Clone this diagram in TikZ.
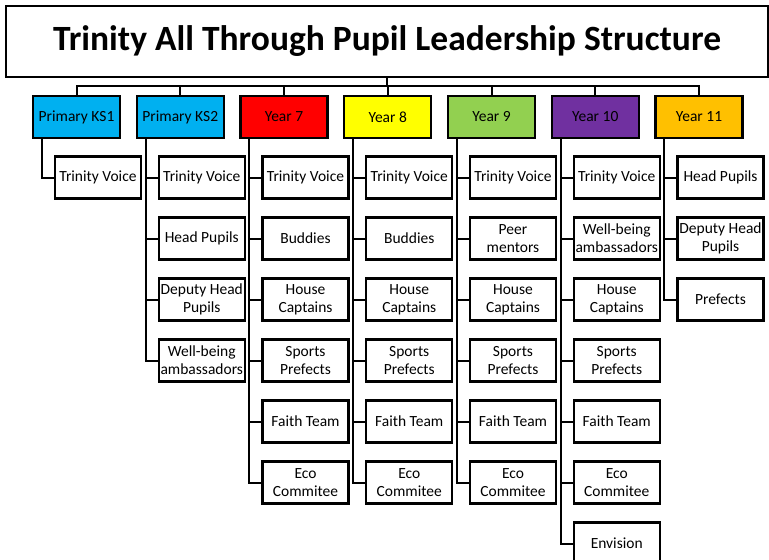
\documentclass[tikz,border=0pt]{standalone}
\usepackage{fontspec}
\setmainfont{Carlito}
\definecolor{ksblue}{HTML}{00B0F0}
\definecolor{ysev}{HTML}{FF0000}
\definecolor{yeig}{HTML}{FFFF00}
\definecolor{ynin}{HTML}{92D050}
\definecolor{yten}{HTML}{7030A0}
\definecolor{yele}{HTML}{FFC000}
\begin{document}
\begin{tikzpicture}
    [x = 1pt, y = -1pt, line width = 2pt,
     every node/.style = {draw, line width = 2.3pt, inner sep = 0pt, align = center,
       font = \fontsize{15.5}{18}\selectfont},
     head/.style = {minimum width = 87pt, minimum height = 42pt},
     kid/.style = {fill = white, minimum width = 86pt, minimum height = 42pt}]
    \useasboundingbox (0,0) rectangle (769,560);
    \node[minimum width = 762pt, minimum height = 71pt,
      font = \fontsize{35.5}{40}\selectfont\bfseries] (title) at (387,41.5)
      {Trinity All Through Pupil Leadership Structure};
    \coordinate (bus) at (387,86);
    \draw (title.south) -- (bus);
    \foreach \i/\name/\col in {0/Primary KS1/ksblue, 1/Primary KS2/ksblue, 2/Year 7/ysev,
        3/Year 8/yeig, 4/Year 9/ynin, 5/Year 10/yten, 6/Year 11/yele}
    {
      \node[head, fill = \col] (h\i) at ({76.5+103.75*\i},117) {\name};
      \draw (h\i.north) |- (bus);
    }
    \foreach \i/\roles in {
        0/{Trinity Voice},
        1/{Trinity Voice, Head Pupils, Deputy Head\\Pupils, Well-being\\ambassadors},
        2/{Trinity Voice, Buddies, House\\Captains, Sports\\Prefects, Faith Team, Eco\\Commitee},
        3/{Trinity Voice, Buddies, House\\Captains, Sports\\Prefects, Faith Team, Eco\\Commitee},
        4/{Trinity Voice, Peer\\mentors, House\\Captains, Sports\\Prefects, Faith Team, Eco\\Commitee},
        5/{Trinity Voice, Well-being\\ambassadors, House\\Captains, Sports\\Prefects, Faith Team, Eco\\Commitee, Envision},
        6/{Head Pupils, Deputy Head\\Pupils, Prefects}}
      \foreach \role [count = \k] in \roles
      {
        \node[kid] (c\i-\k) at ({98+103.75*\i},{177.5+61*(\k-1)}) {\role};
        \draw ([xshift = 10pt]h\i.south west) |- (c\i-\k.west);
      }
  \end{tikzpicture}
\end{document}
